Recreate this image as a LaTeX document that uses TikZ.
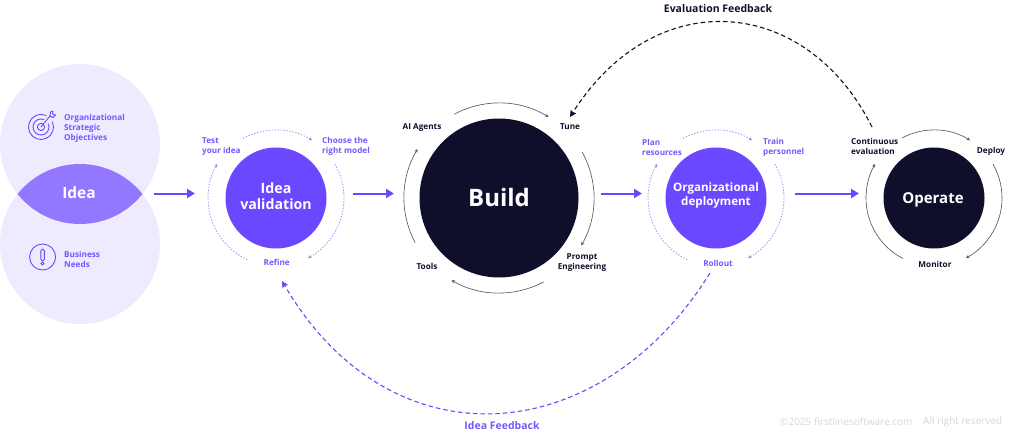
\documentclass[tikz,border=0pt]{standalone}
\usepackage{fontspec}
\setmainfont{Open Sans}
\usetikzlibrary{arrows.meta}
\definecolor{pur}{HTML}{6B48FF}
\definecolor{purtxt}{HTML}{7557FF}
\definecolor{navy}{HTML}{100F2B}
\definecolor{lite}{HTML}{EFEBFE}
\definecolor{lens}{HTML}{9377FF}
\definecolor{dots}{HTML}{9E8BFF}
\definecolor{footc}{HTML}{D6D6DA}
\newcommand{\ringarc}[5]{\draw[#5] ([shift=(#3:#2)]#1.center) arc[start angle=#3,end angle=#4,radius=#2];}
\tikzset{
  small/.style={font=\bfseries\fontsize{8.2}{10}\selectfont,inner sep=0pt,yshift=-1pt},
  lab/.style={small,text=navy,align=center},
  plab/.style={small,text=purtxt,align=left},
  nlab/.style={small,text=navy,align=left},
  bigc/.style={circle,inner sep=0pt,minimum size=101pt},
  big/.style={text=white,align=center,inner sep=0pt,font=\bfseries\fontsize{#1}{#1}\selectfont},
  flow/.style={pur,line width=2pt,-{Triangle[length=8pt,width=9pt]}},
  dotarc/.style={dots,line width=0.8pt,dash pattern=on 1.4pt off 1.6pt,-{Stealth[length=3.5pt,width=3.5pt]}},
  thinarc/.style={navy!70,line width=0.65pt,-{Stealth[length=3.5pt,width=3.5pt]}},
  fback/.style={line width=1.1pt,dash pattern=on 4.5pt off 3pt,-{Stealth[length=6.5pt,width=6.5pt,inset=1pt]}},
  icon/.style={pur,line width=0.9pt},
  foot/.style={inner sep=0pt,text=footc,font=\fontsize{10}{12}\selectfont,anchor=west},
}
\begin{document}
\begin{tikzpicture}[x=1pt,y=1pt]
\useasboundingbox (0,0) rectangle (1024,-447);
% Idea circles
\fill[lite] (80,-144) circle (80);
\fill[lite] (80,-244) circle (80);
\begin{scope}
  \clip (80,-144) circle (80);
  \fill[lens] (80,-244) circle (80);
\end{scope}
\node[big=15.5] (idea) at (79,-192.5) {Idea};
% icons
\coordinate (tgt) at (41,-127);
\draw[icon] ([shift=(25:12.5)]tgt) arc[start angle=25,end angle=-295,radius=12.5];
\draw[icon] ([shift=(25:8)]tgt) arc[start angle=25,end angle=-295,radius=8];
\draw[icon] (tgt) circle (3.6);
\draw[icon] (tgt) -- (50,-116);
\draw[icon,line join=round] (50,-116) -- (50.5,-112) -- (53,-111) -- (52.5,-114) -- (55.5,-115) -- (53,-117.5) -- cycle;
\coordinate (exc) at (42.6,-257);
\draw[icon] (exc) circle (13);
\draw[icon,rounded corners=1.5pt] (40.9,-249) rectangle (44.3,-261);
\draw[icon] (42.6,-263.5) circle (1.5);
\node[plab,anchor=west] (org) at (64,-127) {Organizational\\Strategic\\Objectives};
\node[plab,anchor=west] (biz) at (64,-258.5) {Business\\Needs};
% Main circles
\node[bigc,fill=pur] (val) at (276,-198) {};
\node[circle,inner sep=0pt,minimum size=159pt,fill=navy] (build) at (499,-198) {};
\node[bigc,fill=pur] (dep) at (716,-198) {};
\node[bigc,fill=navy] (op) at (934,-198) {};
\node[big=14.2] (valt) at (276,-196.5) {Idea\\[1.8pt]validation};
\node[big=24] (buildt) at (499,-197) {Build};
\node[big=11.6] (dept) at (716,-195.5) {Organizational\\[2.4pt]deployment};
\node[big=15] (opt) at (933,-200) {Operate};
% Rings
\ringarc{val}{68}{119}{58}{dotarc}
\ringarc{val}{68}{30}{-62}{dotarc}
\ringarc{val}{68}{245}{150}{dotarc}
\ringarc{build}{95}{118}{58.5}{thinarc}
\ringarc{build}{95}{29}{-30}{thinarc}
\ringarc{build}{95}{-62}{-120}{thinarc}
\ringarc{build}{95}{208}{149}{thinarc}
\ringarc{dep}{68}{119}{58}{dotarc}
\ringarc{dep}{68}{30}{-62}{dotarc}
\ringarc{dep}{68}{245}{150}{dotarc}
\ringarc{op}{68}{118}{58}{thinarc}
\ringarc{op}{68}{30}{-62}{thinarc}
\ringarc{op}{68}{243}{150}{thinarc}
% Labels
\node[plab,anchor=west] (test) at (202,-145.5) {Test\\your idea};
\node[plab,anchor=west] (model) at (322,-145.5) {Choose the\\right model};
\node[plab] (refine) at (276.7,-261) {Refine};
\node[lab] (agents) at (422,-127) {AI Agents};
\node[lab] (tune) at (570,-126) {Tune};
\node[lab] (prompt) at (582,-262) {Prompt\\Engineering};
\node[lab] (tools) at (427,-265) {Tools};
\node[plab,anchor=west] (plan) at (642,-146) {Plan\\resources};
\node[plab,anchor=west] (train) at (763,-146) {Train\\personnel};
\node[plab] (rollout) at (718,-262) {Rollout};
\node[nlab,anchor=west] (cont) at (851,-145) {Continuous\\evaluation};
\node[lab] (deploy) at (991,-150) {Deploy};
\node[lab] (monitor) at (935,-263) {Monitor};
% Flow arrows
\coordinate (a1) at (154,-193.5); \coordinate (a2) at (195,-193.5);
\coordinate (b1) at (353,-193.5); \coordinate (b2) at (394,-193.5);
\coordinate (c1) at (601,-193.5); \coordinate (c2) at (642,-193.5);
\coordinate (d1) at (795,-193.5); \coordinate (d2) at (859,-193.5);
\draw[flow] (a1) -- (a2);
\draw[flow] (b1) -- (b2);
\draw[flow] (c1) -- (c2);
\draw[flow] (d1) -- (d2);
% Feedback
\coordinate (ef1) at (872,-127); \coordinate (ef2) at (570,-117);
\coordinate (if1) at (710,-273); \coordinate (if2) at (282,-281);
\draw[navy,fback] (ef1) .. controls (806,5) and (655,17) .. (ef2);
\draw[pur,fback] (if1) .. controls (600,-450) and (391,-467) .. (if2);
\node[small,text=navy,font=\bfseries\fontsize{10.5}{12}\selectfont] (eft) at (718,-7.5) {Evaluation Feedback};
\node[small,text=purtxt,font=\bfseries\fontsize{10.5}{12}\selectfont] (ift) at (502,-425) {Idea Feedback};
% Footer
\node[foot] (f1) at (780,-422) {©2025 firstlinesoftware.com};
\node[foot] (f2) at (923,-422) {All right reserved};
\end{tikzpicture}
\end{document}
